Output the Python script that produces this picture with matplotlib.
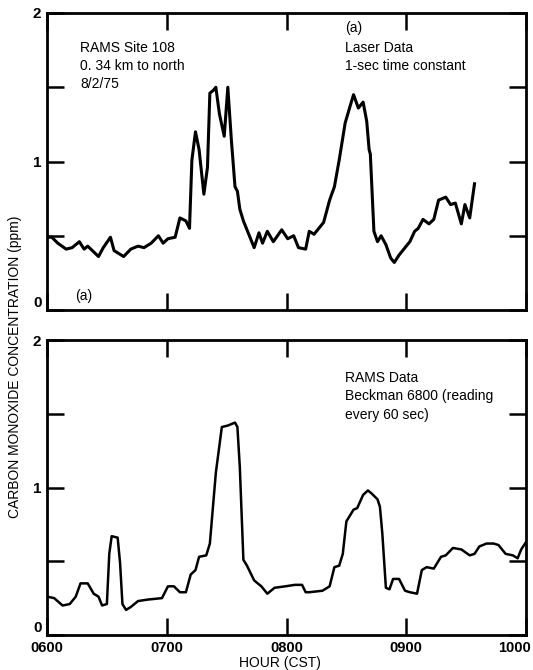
import matplotlib
matplotlib.use("Agg")
import matplotlib.pyplot as plt
from matplotlib.transforms import ScaledTranslation

plt.rcParams['font.family'] = ['Liberation Sans', 'DejaVu Sans']

# laser data (top), hour of day vs CO ppm
laser_hour = [6.01, 6.04, 6.09, 6.16, 6.21, 6.27, 6.31, 6.34, 6.43, 6.47, 6.53, 6.56,
              6.64, 6.70, 6.76, 6.81, 6.87, 6.93, 6.97, 7.01, 7.07, 7.11, 7.16, 7.19,
              7.21, 7.24, 7.27, 7.31, 7.34, 7.36, 7.39, 7.41, 7.44, 7.48, 7.51, 7.54,
              7.57, 7.59, 7.61, 7.64, 7.69, 7.73, 7.77, 7.80, 7.84, 7.89, 7.96, 8.01,
              8.06, 8.10, 8.16, 8.19, 8.23, 8.27, 8.31, 8.36, 8.40, 8.44, 8.49, 8.53,
              8.56, 8.60, 8.64, 8.67, 8.69, 8.70, 8.73, 8.76, 8.79, 8.83, 8.87, 8.90,
              8.94, 8.99, 9.03, 9.07, 9.10, 9.14, 9.19, 9.23, 9.27, 9.33, 9.37, 9.41,
              9.46, 9.49, 9.53, 9.57]
laser_ppm = [0.49, 0.49, 0.45, 0.41, 0.42, 0.46, 0.41, 0.43, 0.36, 0.42, 0.49, 0.40,
             0.36, 0.41, 0.43, 0.42, 0.45, 0.50, 0.45, 0.48, 0.49, 0.62, 0.60, 0.55,
             1.01, 1.20, 1.08, 0.78, 0.96, 1.46, 1.48, 1.50, 1.32, 1.17, 1.50, 1.14,
             0.83, 0.80, 0.68, 0.60, 0.50, 0.42, 0.52, 0.45, 0.53, 0.46, 0.54, 0.48,
             0.50, 0.42, 0.41, 0.53, 0.51, 0.55, 0.59, 0.74, 0.83, 1.01, 1.26, 1.37,
             1.45, 1.36, 1.40, 1.27, 1.08, 1.05, 0.53, 0.46, 0.50, 0.44, 0.35, 0.32,
             0.37, 0.42, 0.46, 0.53, 0.55, 0.61, 0.58, 0.61, 0.74, 0.76, 0.71, 0.72,
             0.58, 0.71, 0.62, 0.85]

# RAMS data (bottom)
rams_hour = [6.00, 6.06, 6.13, 6.19, 6.24, 6.28, 6.34, 6.39, 6.43, 6.46, 6.50, 6.52,
             6.54, 6.59, 6.61, 6.63, 6.66, 6.70, 6.76, 6.84, 6.96, 7.01, 7.06, 7.11,
             7.16, 7.20, 7.24, 7.27, 7.33, 7.36, 7.41, 7.46, 7.51, 7.57, 7.59, 7.61,
             7.64, 7.67, 7.73, 7.79, 7.84, 7.90, 7.99, 8.07, 8.13, 8.16, 8.19, 8.30,
             8.36, 8.40, 8.44, 8.47, 8.50, 8.56, 8.59, 8.64, 8.68, 8.71, 8.76, 8.78,
             8.80, 8.83, 8.86, 8.89, 8.94, 8.99, 9.03, 9.09, 9.13, 9.17, 9.23, 9.29,
             9.33, 9.39, 9.46, 9.53, 9.57, 9.61, 9.67, 9.73, 9.77, 9.83, 9.89, 9.93,
             9.96, 10.00]
rams_ppm = [0.26, 0.25, 0.20, 0.21, 0.26, 0.35, 0.35, 0.28, 0.26, 0.20, 0.21, 0.55,
            0.67, 0.66, 0.49, 0.21, 0.17, 0.19, 0.23, 0.24, 0.25, 0.33, 0.33, 0.29,
            0.29, 0.41, 0.44, 0.53, 0.54, 0.62, 1.10, 1.41, 1.42, 1.44, 1.41, 1.14,
            0.51, 0.47, 0.37, 0.33, 0.28, 0.32, 0.33, 0.34, 0.34, 0.29, 0.29, 0.30,
            0.33, 0.46, 0.47, 0.55, 0.77, 0.85, 0.86, 0.95, 0.98, 0.96, 0.92, 0.87,
            0.69, 0.32, 0.31, 0.38, 0.38, 0.30, 0.29, 0.28, 0.44, 0.46, 0.45, 0.53,
            0.54, 0.59, 0.58, 0.54, 0.55, 0.60, 0.62, 0.62, 0.61, 0.55, 0.54, 0.52,
            0.58, 0.63]

hour_ticks = [6, 7, 8, 9, 10]
hour_labels = ['0600', '0700', '0800', '0900', '1000']
ppm_ticks = [0, 0.5, 1, 1.5, 2]
ppm_labels = ['0', '', '1', '', '2']

W, H = 533, 670
fig = plt.figure(figsize=(W / 100, H / 100), dpi=100)
ax1 = fig.add_axes([47 / W, 1 - 310 / H, 479 / W, 297 / H])
ax2 = fig.add_axes([47 / W, 1 - 635 / H, 479 / W, 295 / H])

raise_zero = ScaledTranslation(0, 6 / 72, fig.dpi_scale_trans)
for ax in (ax1, ax2):
    ax.set_xlim(6, 10)
    ax.set_ylim(0, 2)
    ax.set_xticks(hour_ticks)
    ax.set_yticks(ppm_ticks)
    ax.set_yticklabels(ppm_labels, fontsize=11, fontweight='bold')
    ax.tick_params(direction='in', length=12, width=1.8, top=True, right=True, pad=4)
    for s in ax.spines.values():
        s.set_linewidth(2)
    lbl = ax.get_yticklabels()[0]
    lbl.set_transform(lbl.get_transform() + raise_zero)

ax1.set_xticklabels([])
ax2.set_xticklabels(hour_labels, fontsize=10.5, fontweight='bold')
# last label sits flush with the page edge, as in the scan
last = ax2.get_xticklabels()[-1]
last.set_horizontalalignment('right')
last.set_transform(last.get_transform() + ScaledTranslation(5 / 100, 0, fig.dpi_scale_trans))

ax1.plot(laser_hour, laser_ppm, color='black', lw=2.2)
ax2.plot(rams_hour, rams_ppm, color='black', lw=1.8)

txt = dict(fontsize=10, va='center', ha='left')
fig.text(80 / W, 1 - 48 / H, 'RAMS Site 108', **txt)
fig.text(80 / W, 1 - 66 / H, '0. 34 km to north', **txt)
fig.text(80 / W, 1 - 84 / H, '8/2/75', **txt)
fig.text(345 / W, 1 - 28 / H, '(a)', **txt)
fig.text(345 / W, 1 - 48 / H, 'Laser Data', **txt)
fig.text(345 / W, 1 - 66 / H, '1-sec time constant', **txt)
fig.text(75 / W, 1 - 296 / H, '(a)', **txt)
fig.text(345 / W, 1 - 378 / H, 'RAMS Data', **txt)
fig.text(345 / W, 1 - 396 / H, 'Beckman 6800 (reading', **txt)
fig.text(345 / W, 1 - 415 / H, 'every 60 sec)', **txt)

fig.text(15 / W, 1 - 367 / H, 'CARBON MONOXIDE CONCENTRATION (ppm)', rotation=90,
         fontsize=10, ha='center', va='center')
fig.text(280 / W, 1 - 663 / H, 'HOUR (CST)', fontsize=10, ha='center', va='center')

fig.savefig('out.png', dpi=100)
